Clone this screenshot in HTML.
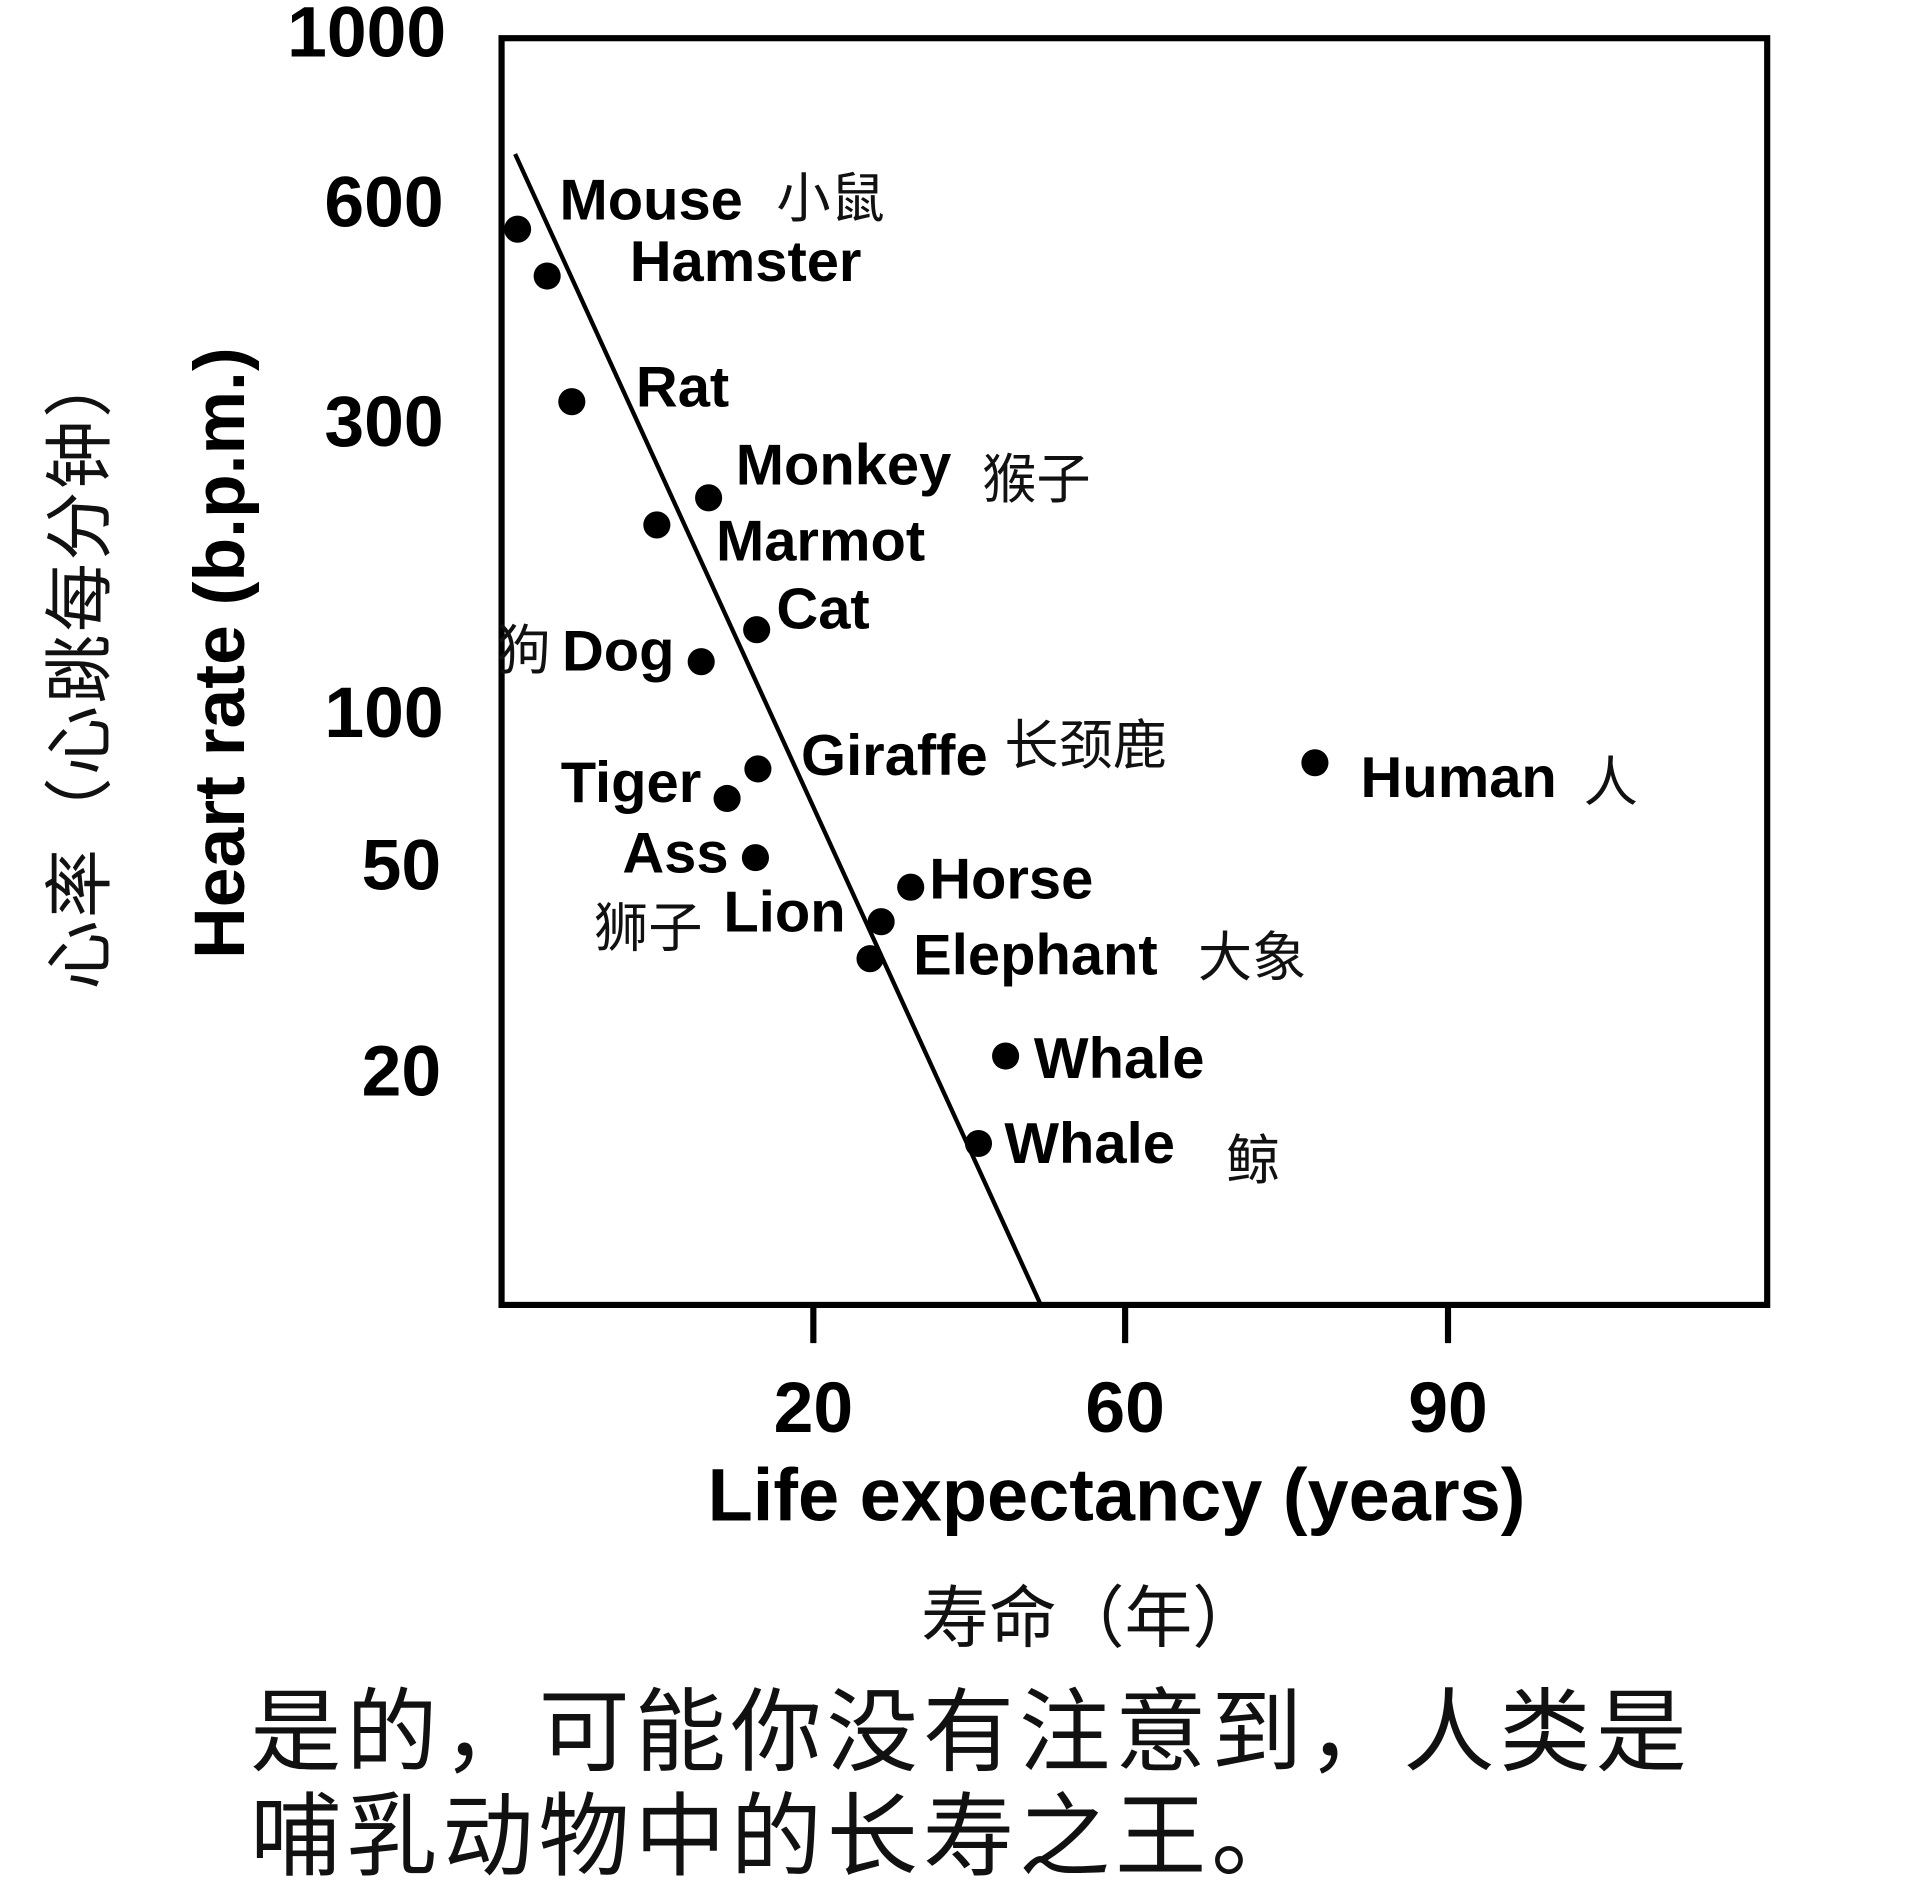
<!DOCTYPE html>
<html><head><meta charset="utf-8"><style>
html,body{margin:0;padding:0;background:#fff;}
svg{display:block;}
.b{font-family:"Liberation Sans","Noto Sans CJK SC",sans-serif;font-weight:bold;fill:#000;}
.c{font-family:"Liberation Sans","Noto Sans CJK SC",sans-serif;fill:#111;}
</style></head><body>
<svg width="1920" height="1889" viewBox="0 0 1558 1533" preserveAspectRatio="none" xmlns="http://www.w3.org/2000/svg">
<rect x="0" y="0" width="1558" height="1533" fill="#fff"/>
<rect x="407" y="31" width="1027" height="1028" fill="none" stroke="#000" stroke-width="5"/>
<g stroke="#000" stroke-width="5">
<line x1="660" y1="1059" x2="660" y2="1090"/>
<line x1="913" y1="1059" x2="913" y2="1090"/>
<line x1="1175" y1="1059" x2="1175" y2="1090"/>
</g>
<line x1="418" y1="125" x2="845" y2="1060" stroke="#000" stroke-width="3.5"/>
<g class="b" font-size="58" text-anchor="end">
<text x="362" y="46">1000</text>
<text x="360" y="184">600</text>
<text x="360" y="362">300</text>
<text x="360" y="598">100</text>
<text x="358" y="722">50</text>
<text x="358" y="889">20</text>
</g>
<g class="b" font-size="58" text-anchor="middle">
<text x="660" y="1162">20</text>
<text x="913" y="1162">60</text>
<text x="1175" y="1162">90</text>
<text x="906" y="1234" font-size="60">Life expectancy (years)</text>
</g>
<text class="c" x="885" y="1332" font-size="55" text-anchor="middle">寿命（年）</text>
<text class="b" font-size="58" text-anchor="middle" transform="translate(198,530) rotate(-90)">Heart rate (b.p.m.)</text>
<text class="c" font-size="56" letter-spacing="2" text-anchor="middle" transform="translate(84,542) rotate(-90)">心率（心跳每分钟）</text>
<g fill="#000">
<circle cx="420" cy="186" r="11"/><circle cx="444" cy="224" r="11"/><circle cx="464" cy="326" r="11"/>
<circle cx="575" cy="404" r="11"/><circle cx="533" cy="426" r="11"/><circle cx="614" cy="511" r="11"/>
<circle cx="569" cy="537" r="11"/><circle cx="615" cy="624" r="11"/><circle cx="590" cy="648" r="11"/>
<circle cx="613" cy="696" r="11"/><circle cx="739" cy="720" r="11"/><circle cx="715" cy="748" r="11"/>
<circle cx="706" cy="778" r="11"/><circle cx="816" cy="857" r="11"/><circle cx="794" cy="928" r="11"/>
<circle cx="1067" cy="619" r="11"/>
</g>
<g class="b" font-size="47">
<text x="454" y="178">Mouse</text>
<text x="511" y="228">Hamster</text>
<text x="516" y="330">Rat</text>
<text x="597" y="393">Monkey</text>
<text x="581" y="455">Marmot</text>
<text x="630" y="510">Cat</text>
<text x="456" y="544">Dog</text>
<text x="650" y="629">Giraffe</text>
<text x="455" y="651">Tiger</text>
<text x="1104" y="647">Human</text>
<text x="505" y="708">Ass</text>
<text x="754" y="729">Horse</text>
<text x="587" y="756">Lion</text>
<text x="741" y="791">Elephant</text>
<text x="839" y="875">Whale</text>
<text x="815" y="944">Whale</text>
</g>
<g class="c" font-size="44">
<text x="630" y="176">小鼠</text>
<text x="797" y="404">猴子</text>
<text x="403" y="543">狗</text>
<text x="815" y="620">长颈鹿</text>
<text x="1285" y="650">人</text>
<text x="482" y="768">狮子</text>
<text x="972" y="792">大象</text>
<text x="995" y="957">鲸</text>
</g>
<g class="c" font-size="74" letter-spacing="4">
<text x="203" y="1431">是的，可能你没有注意到，人类是</text>
<text x="203" y="1516">哺乳动物中的长寿之王。</text>
</g>
</svg>
</body></html>
